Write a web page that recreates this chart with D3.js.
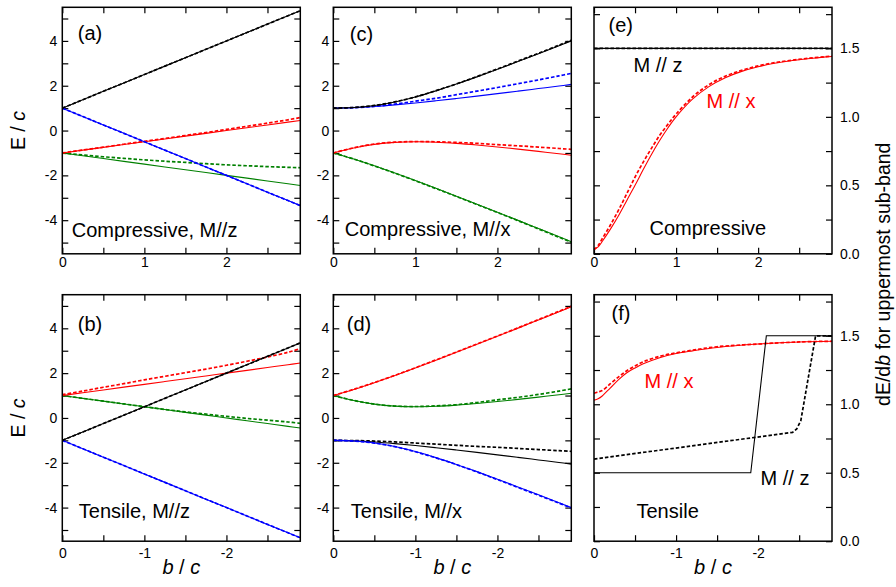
<!DOCTYPE html>
<meta charset="utf-8">
<script src="https://d3js.org/d3.v7.min.js"></script>
<style>
  body { margin: 0; background: #fff; }
  svg { font-family: "Liberation Sans", Arial, sans-serif; }
</style>
<div id="chart"></div>
<script>

// ---- data ----
// field grid, compressive (b > 0) and tensile (b < 0)
const bPos = [0, 0.25, 0.5, 0.75, 1, 1.25, 1.5, 1.75, 2, 2.25, 2.5, 2.75, 2.9];
const bNeg = [0, -0.25, -0.5, -0.75, -1, -1.25, -1.5, -1.75, -2, -2.25, -2.5, -2.75, -2.9];

// (a) compressive, M//z
const aBlack     = [1, 1.375, 1.75, 2.125, 2.5, 2.875, 3.25, 3.625, 4, 4.375, 4.75, 5.125, 5.35];
const aBlackDash = [1, 1.375, 1.75, 2.125, 2.5, 2.875, 3.25, 3.625, 4, 4.375, 4.75, 5.125, 5.35];
const aBlue      = [1, 0.625, 0.25, -0.125, -0.5, -0.875, -1.25, -1.625, -2, -2.375, -2.75, -3.125, -3.35];
const aBlueDash  = [1, 0.625, 0.25, -0.125, -0.5, -0.875, -1.25, -1.625, -2, -2.375, -2.75, -3.125, -3.35];
const aRed       = [-1, -0.875, -0.75, -0.625, -0.5, -0.375, -0.25, -0.125, 0, 0.125, 0.25, 0.375, 0.45];
const aRedDash   = [-1, -0.87, -0.74, -0.61, -0.48, -0.35, -0.22, -0.09, 0.05, 0.19, 0.33, 0.48, 0.58];
const aGreen     = [-1, -1.125, -1.25, -1.375, -1.5, -1.625, -1.75, -1.875, -2, -2.125, -2.25, -2.375, -2.45];
const aGreenDash = [-1, -1.09, -1.17, -1.24, -1.31, -1.37, -1.42, -1.48, -1.53, -1.57, -1.61, -1.64, -1.66];

// (b) tensile, M//z
const bBlack     = [-1, -0.625, -0.25, 0.125, 0.5, 0.875, 1.25, 1.625, 2, 2.375, 2.75, 3.125, 3.35];
const bBlackDash = [-1, -0.625, -0.25, 0.125, 0.5, 0.875, 1.25, 1.625, 2, 2.375, 2.75, 3.125, 3.35];
const bBlue      = [-1, -1.375, -1.75, -2.125, -2.5, -2.875, -3.25, -3.625, -4, -4.375, -4.75, -5.125, -5.35];
const bBlueDash  = [-1, -1.375, -1.75, -2.125, -2.5, -2.875, -3.25, -3.625, -4, -4.375, -4.75, -5.125, -5.35];
const bRed       = [1, 1.125, 1.25, 1.375, 1.5, 1.625, 1.75, 1.875, 2, 2.125, 2.25, 2.375, 2.45];
const bRedDash   = [1.04, 1.2, 1.37, 1.53, 1.7, 1.86, 2.02, 2.18, 2.35, 2.53, 2.72, 2.93, 3.1];
const bGreen     = [1, 0.875, 0.75, 0.625, 0.5, 0.375, 0.25, 0.125, 0, -0.125, -0.25, -0.375, -0.45];
const bGreenDash = [1, 0.875, 0.75, 0.625, 0.5, 0.38, 0.27, 0.17, 0.07, -0.02, -0.1, -0.18, -0.24];

// (c) compressive, M//x
const cBlack     = [1, 1.026, 1.116, 1.276, 1.5, 1.771, 2.073, 2.396, 2.732, 3.078, 3.429, 3.786, 4.002];
const cBlackDash = [1, 1.03, 1.12, 1.28, 1.5, 1.78, 2.08, 2.41, 2.75, 3.1, 3.45, 3.81, 4.03];
const cBlue      = [1, 1.021, 1.073, 1.146, 1.232, 1.328, 1.429, 1.536, 1.646, 1.758, 1.873, 1.988, 2.059];
const cBlueDash  = [1, 1.02, 1.08, 1.18, 1.31, 1.44, 1.6, 1.76, 1.92, 2.09, 2.26, 2.44, 2.55];
const cRed       = [-1, -0.776, -0.616, -0.526, -0.5, -0.521, -0.573, -0.646, -0.732, -0.828, -0.929, -1.036, -1.102];
const cRedDash   = [-1, -0.77, -0.6, -0.52, -0.49, -0.5, -0.53, -0.57, -0.63, -0.68, -0.74, -0.8, -0.84];
const cGreen     = [-1, -1.271, -1.573, -1.896, -2.232, -2.578, -2.929, -3.286, -3.646, -4.008, -4.373, -4.738, -4.959];
const cGreenDash = [-1, -1.27, -1.58, -1.9, -2.24, -2.59, -2.94, -3.3, -3.66, -4.02, -4.39, -4.76, -4.98];

// (d) tensile, M//x
const dRed       = [1, 1.271, 1.573, 1.896, 2.232, 2.578, 2.929, 3.286, 3.646, 4.008, 4.373, 4.738, 4.959];
const dRedDash   = [1, 1.28, 1.58, 1.9, 2.24, 2.59, 2.94, 3.3, 3.66, 4.02, 4.39, 4.76, 4.98];
const dGreen     = [1, 0.776, 0.616, 0.526, 0.5, 0.521, 0.573, 0.646, 0.732, 0.828, 0.929, 1.036, 1.102];
const dGreenDash = [1, 0.78, 0.62, 0.53, 0.51, 0.54, 0.59, 0.69, 0.81, 0.92, 1.05, 1.2, 1.3];
const dBlack     = [-1, -1.021, -1.073, -1.146, -1.232, -1.328, -1.429, -1.536, -1.646, -1.758, -1.873, -1.988, -2.059];
const dBlackDash = [-1, -1.01, -1.03, -1.07, -1.12, -1.17, -1.22, -1.27, -1.31, -1.36, -1.41, -1.46, -1.49];
const dBlue      = [-1, -1.026, -1.116, -1.276, -1.5, -1.771, -2.073, -2.396, -2.732, -3.078, -3.429, -3.786, -4.002];
const dBlueDash  = [-1, -1.03, -1.12, -1.28, -1.51, -1.78, -2.08, -2.41, -2.75, -3.1, -3.45, -3.8, -4.02];

// (e) dE/db of uppermost sub-band, compressive
const eB         = [0, 0.05, 0.1, 0.2, 0.3, 0.4, 0.5, 0.6, 0.7, 0.8, 0.9, 1.0, 1.2, 1.4, 1.6, 1.8, 2.0, 2.2, 2.4, 2.6, 2.8, 2.9];
const eRed       = [0.03, 0.05, 0.09, 0.18, 0.28, 0.39, 0.5, 0.615, 0.725, 0.827, 0.919, 1.0, 1.129, 1.221, 1.286, 1.332, 1.366, 1.391, 1.41, 1.424, 1.436, 1.441];
const eRedDash   = [0.03, 0.06, 0.11, 0.21, 0.32, 0.44, 0.56, 0.67, 0.77, 0.865, 0.945, 1.02, 1.145, 1.235, 1.297, 1.34, 1.372, 1.396, 1.413, 1.427, 1.438, 1.443];
const eBlackB    = [0, 2.9];
const eBlack     = [1.5, 1.5];
const eBlackDash = [1.5, 1.5];

// (f) dE/db of uppermost sub-band, tensile
const fB         = [0, -0.05, -0.1, -0.2, -0.3, -0.4, -0.5, -0.6, -0.8, -1.0, -1.2, -1.5, -2.0, -2.5, -2.9];
const fRed       = [1.03, 1.04, 1.06, 1.12, 1.18, 1.23, 1.265, 1.295, 1.34, 1.37, 1.39, 1.415, 1.44, 1.455, 1.46];
const fRedDash   = [1.08, 1.09, 1.1, 1.15, 1.2, 1.245, 1.28, 1.31, 1.35, 1.375, 1.395, 1.42, 1.44, 1.455, 1.46];
const fBlackB    = [0, -1.91, -2.1, -2.9];
const fBlack     = [0.5, 0.5, 1.5, 1.5];
const fBlackDashB = [0, -2.42, -2.47, -2.52, -2.7, -2.9];
const fBlackDash = [0.6, 0.795, 0.82, 0.88, 1.5, 1.5];

// ---- layout ----
const W = 896, H = 587;
const colX = [62.3, 333.3, 594];
const rowY = [7.3, 294.7];
const pw = 238, ph = 246.5;

const RED = "#ff0000", GREEN = "#008000", BLUE = "#0000ff", BLACK = "#000000";

const zip = (xs, ys) => xs.map((v, i) => [v, ys[i]]);
const smooth = d3.curveCatmullRom.alpha(0.5);

function pair(xs, solid, dash, color, curve) {
  return [
    { pts: zip(xs, solid), color, dashed: false, curve },
    { pts: zip(xs, dash), color, dashed: true, curve }
  ];
}

const panels = [
  { col: 0, row: 0, xDom: [0, 2.9], kind: "E",
    lines: [].concat(
      pair(bPos, aGreen, aGreenDash, GREEN, d3.curveLinear),
      pair(bPos, aRed, aRedDash, RED, d3.curveLinear),
      pair(bPos, aBlue, aBlueDash, BLUE, d3.curveLinear),
      pair(bPos, aBlack, aBlackDash, BLACK, d3.curveLinear)),
    notes: [
      { parts: [["(a)"]], x: 15.5, y: 32.5 },
      { parts: [["Compressive, M//z"]], x: 9.5, y: 229.5 }
    ] },
  { col: 0, row: 1, xDom: [0, -2.9], kind: "E",
    lines: [].concat(
      pair(bNeg, bBlue, bBlueDash, BLUE, d3.curveLinear),
      pair(bNeg, bGreen, bGreenDash, GREEN, smooth),
      pair(bNeg, bRed, bRedDash, RED, smooth),
      pair(bNeg, bBlack, bBlackDash, BLACK, d3.curveLinear)),
    notes: [
      { parts: [["(b)"]], x: 15.5, y: 36 },
      { parts: [["Tensile, M//z"]], x: 16.5, y: 223 }
    ] },
  { col: 1, row: 0, xDom: [0, 2.9], kind: "E",
    lines: [].concat(
      pair(bPos, cGreen, cGreenDash, GREEN, smooth),
      pair(bPos, cRed, cRedDash, RED, smooth),
      pair(bPos, cBlue, cBlueDash, BLUE, smooth),
      pair(bPos, cBlack, cBlackDash, BLACK, smooth)),
    notes: [
      { parts: [["(c)"]], x: 16.5, y: 33.5 },
      { parts: [["Compressive, M//x"]], x: 11.5, y: 229 }
    ] },
  { col: 1, row: 1, xDom: [0, -2.9], kind: "E",
    lines: [].concat(
      pair(bNeg, dBlack, dBlackDash, BLACK, smooth),
      pair(bNeg, dBlue, dBlueDash, BLUE, smooth),
      pair(bNeg, dGreen, dGreenDash, GREEN, smooth),
      pair(bNeg, dRed, dRedDash, RED, smooth)),
    notes: [
      { parts: [["(d)"]], x: 13.5, y: 36 },
      { parts: [["Tensile, M//x"]], x: 17.5, y: 223 }
    ] },
  { col: 2, row: 0, xDom: [0, 2.9], kind: "S",
    lines: [].concat(
      pair(eB, eRed, eRedDash, RED, smooth),
      pair(eBlackB, eBlack, eBlackDash, BLACK, d3.curveLinear)),
    notes: [
      { parts: [["(e)"]], x: 14.5, y: 24.5 },
      { parts: [["M // z"]], x: 39.5, y: 64.5 },
      { parts: [["M // x"]], x: 112.5, y: 101, color: RED },
      { parts: [["Compressive"]], x: 55.5, y: 228 }
    ] },
  { col: 2, row: 1, xDom: [0, -2.9], kind: "S",
    lines: [
      { pts: zip(fB, fRed), color: RED, dashed: false, curve: smooth },
      { pts: zip(fB, fRedDash), color: RED, dashed: true, curve: smooth },
      { pts: zip(fBlackB, fBlack), color: BLACK, dashed: false, curve: d3.curveLinear },
      { pts: zip(fBlackDashB, fBlackDash), color: BLACK, dashed: true, curve: d3.curveLinear }
    ],
    notes: [
      { parts: [["(f)"]], x: 17.5, y: 25 },
      { parts: [["M // x"]], x: 50.5, y: 93.5, color: RED },
      { parts: [["M // z"]], x: 166.5, y: 190.5 },
      { parts: [["Tensile"]], x: 42.5, y: 223 }
    ] }
];

const svg = d3.select("#chart").append("svg")
  .attr("width", W)
  .attr("height", H);

svg.append("clipPath").attr("id", "plotclip")
  .append("rect").attr("x", 0).attr("y", 0).attr("width", pw).attr("height", ph);

function styleAxis(g, size) {
  g.select(".domain").remove();
  g.selectAll(".tick line").attr("stroke", "#000").attr("stroke-width", 1.2);
  g.selectAll(".tick text")
    .attr("fill", "#000")
    .style("font-family", '"Liberation Sans", Arial, sans-serif')
    .style("font-size", size + "px");
}

function addText(sel, parts) {
  parts.forEach(p => {
    const t = sel.append("tspan").text(p[0]);
    if (p[1]) t.attr("font-style", "italic");
  });
}

panels.forEach(p => {
  const g = svg.append("g")
    .attr("transform", `translate(${colX[p.col]},${rowY[p.row]})`);

  const x = d3.scaleLinear().domain(p.xDom).range([0, pw]);
  const yDom = p.kind === "E" ? [-5.5, 5.5] : [0, 1.8];
  const y = d3.scaleLinear().domain(yDom).range([ph, 0]);

  // x ticks every 0.5, labelled at whole numbers
  const sgn = p.xDom[1] < 0 ? -1 : 1;
  const xt = d3.range(0, 2.9, 0.5).map(v => v * sgn);
  const xfmt = d => Number.isInteger(d) ? String(d) : "";

  g.append("g")
    .attr("transform", `translate(0,${ph})`)
    .call(d3.axisBottom(x).tickValues(xt).tickFormat(xfmt).tickSizeInner(-6).tickSizeOuter(0)
      .tickPadding(p.row === 0 ? 3 : 7))
    .call(a => styleAxis(a, 14));
  g.append("g")
    .call(d3.axisTop(x).tickValues(xt).tickFormat("").tickSizeInner(-6).tickSizeOuter(0))
    .call(a => styleAxis(a, 14));

  if (p.kind === "E") {
    const yt = d3.range(-5, 5.5, 1);
    g.append("g")
      .call(d3.axisLeft(y).tickValues(yt).tickFormat(d => d % 2 === 0 ? String(d) : "")
        .tickSizeInner(-6).tickSizeOuter(0).tickPadding(p.col === 0 ? 5 : 4))
      .call(a => styleAxis(a, 14));
    g.append("g")
      .attr("transform", `translate(${pw},0)`)
      .call(d3.axisRight(y).tickValues(yt).tickFormat("").tickSizeInner(-6).tickSizeOuter(0))
      .call(a => styleAxis(a, 14));
  } else {
    const yt = d3.range(0, 1.8, 0.25);
    g.append("g")
      .call(d3.axisLeft(y).tickValues(yt).tickFormat("").tickSizeInner(-6).tickSizeOuter(0))
      .call(a => styleAxis(a, 14));
    g.append("g")
      .attr("transform", `translate(${pw},0)`)
      .call(d3.axisRight(y).tickValues(yt)
        .tickFormat(d => (d * 2) % 1 === 0 ? d3.format(".1f")(d) : "")
        .tickSizeInner(-6).tickSizeOuter(0).tickPadding(8))
      .call(a => styleAxis(a, 14));
  }

  // curves
  const plot = g.append("g").attr("clip-path", "url(#plotclip)");
  p.lines.forEach(s => {
    const line = d3.line()
      .x(d => x(d[0]))
      .y(d => y(d[1]))
      .curve(s.curve);
    plot.append("path")
      .datum(s.pts)
      .attr("d", line)
      .attr("fill", "none")
      .attr("stroke", s.color)
      .attr("stroke-width", s.dashed ? 1.7 : 1.1)
      .attr("stroke-dasharray", s.dashed ? "3.5,2" : null);
  });

  // frame
  g.append("rect")
    .attr("width", pw).attr("height", ph)
    .attr("fill", "none").attr("stroke", "#000").attr("stroke-width", 1.5);

  // annotations
  p.notes.forEach(n => {
    const t = g.append("text")
      .attr("x", n.x).attr("y", n.y)
      .attr("fill", n.color || "#000")
      .style("font-size", "20px");
    addText(t, n.parts);
  });

  // x title under bottom row
  if (p.row === 1) {
    const t = g.append("text")
      .attr("x", pw / 2).attr("y", ph + 32.5)
      .attr("text-anchor", "middle")
      .style("font-size", "20px");
    addText(t, [["b", true], [" / "], ["c", true]]);
  }

  // y title on the left column
  if (p.col === 0) {
    const t = svg.append("text")
      .attr("transform", `translate(25,${rowY[p.row] + ph / 2}) rotate(-90)`)
      .attr("text-anchor", "middle")
      .style("font-size", "19.5px");
    addText(t, [["E / "], ["c", true]]);
  }
});

// right title shared by (e) and (f)
const rt = svg.append("text")
  .attr("transform", `translate(890,${(rowY[0] + rowY[1] + ph) / 2}) rotate(-90)`)
  .attr("text-anchor", "middle")
  .style("font-size", "19.5px");
addText(rt, [["dE/d"], ["b", true], ["  for uppermost sub-band"]]);

</script>
